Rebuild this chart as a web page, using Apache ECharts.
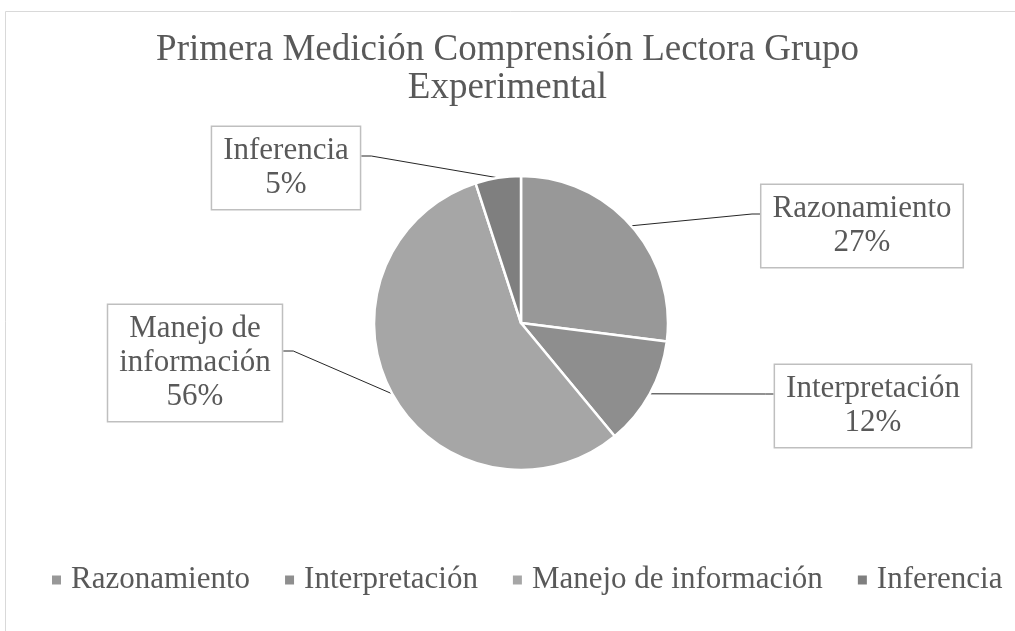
<!DOCTYPE html>
<html>
<head>
<meta charset="UTF-8">
<title></title>
<script src="https://cdn.jsdelivr.net/npm/echarts@6/dist/echarts.min.js"></script>
<style>
  html, body { margin: 0; padding: 0; background: #fff; }
</style>
</head>
<body>
<div id="chart" style="width: 1015px; height: 631px;"></div>
<script type="text/javascript">
  var categories = ['Razonamiento', 'Interpretación', 'Manejo de información', 'Inferencia'];
  var values = [27, 12, 56, 5];
  var colors = ['#989898', '#8e8e8e', '#a6a6a6', '#7f7f7f'];
  var labelNames = ['Razonamiento', 'Interpretación', 'Manejo de\ninformación', 'Inferencia'];

  // label box centres
  var labelSpots = [[862, 226], [873, 406], [195, 363], [286, 168]];

  var font = '"Liberation Serif", "DejaVu Serif", serif';
  var my_chart = echarts.init(document.getElementById('chart'));

  var data = categories.map(function (c, i) {
    return { name: c, value: values[i], itemStyle: { color: colors[i] } };
  });

  var option = {
    backgroundColor: '#fff',
    animation: false,
    graphic: [{
      type: 'rect',
      shape: { x: 5.5, y: 11.5, width: 1020, height: 640 },
      style: { fill: 'none', stroke: '#d9d9d9', lineWidth: 1 },
      silent: true
    }],
    title: {
      text: 'Primera Medición Comprensión Lectora Grupo\nExperimental',
      left: 'center',
      top: 26,
      textStyle: {
        fontFamily: font,
        fontSize: 37,
        fontWeight: 'normal',
        color: '#595959',
        lineHeight: 38
      }
    },
    legend: {
      top: 558,
      left: 45,
      icon: 'rect',
      itemWidth: 11,
      itemHeight: 11,
      itemGap: 33,
      textStyle: {
        fontFamily: font,
        fontSize: 31,
        lineHeight: 34,
        color: '#595959',
        padding: [0, 0, 0, 4]
      },
      data: categories
    },
    series: [{
      type: 'pie',
      center: [521, 323],
      radius: [0, 147],
      startAngle: 90,
      clockwise: true,
      data: data,
      itemStyle: { borderColor: '#fff', borderWidth: 2.5 },
      label: {
        show: true,
        formatter: function (p) {
          return labelNames[p.dataIndex] + '\n' + p.value + '%';
        },
        fontFamily: font,
        fontSize: 31,
        lineHeight: 34,
        color: '#595959',
        align: 'center',
        backgroundColor: '#fff',
        borderColor: '#bfbfbf',
        borderWidth: 1.5,
        padding: [7, 11, 7, 11]
      },
      labelLine: {
        show: true,
        length: 20,
        length2: 10,
        lineStyle: { color: '#262626', width: 1 }
      },
      labelLayout: function (params) {
        var s = labelSpots[params.dataIndex];
        var w = params.labelRect.width;
        var start = params.labelLinePoints[0];
        var right = s[0] > 521;
        var ex = right ? s[0] - w / 2 : s[0] + w / 2;
        var ey = s[1] - 12;
        var stub = right ? ex - 8 : ex + 10;
        return {
          x: s[0], y: s[1], align: 'center', verticalAlign: 'middle',
          labelLinePoints: [start, [stub, ey], [ex, ey]]
        };
      }
    }]
  };
  my_chart.setOption(option);
</script>
</body>
</html>
